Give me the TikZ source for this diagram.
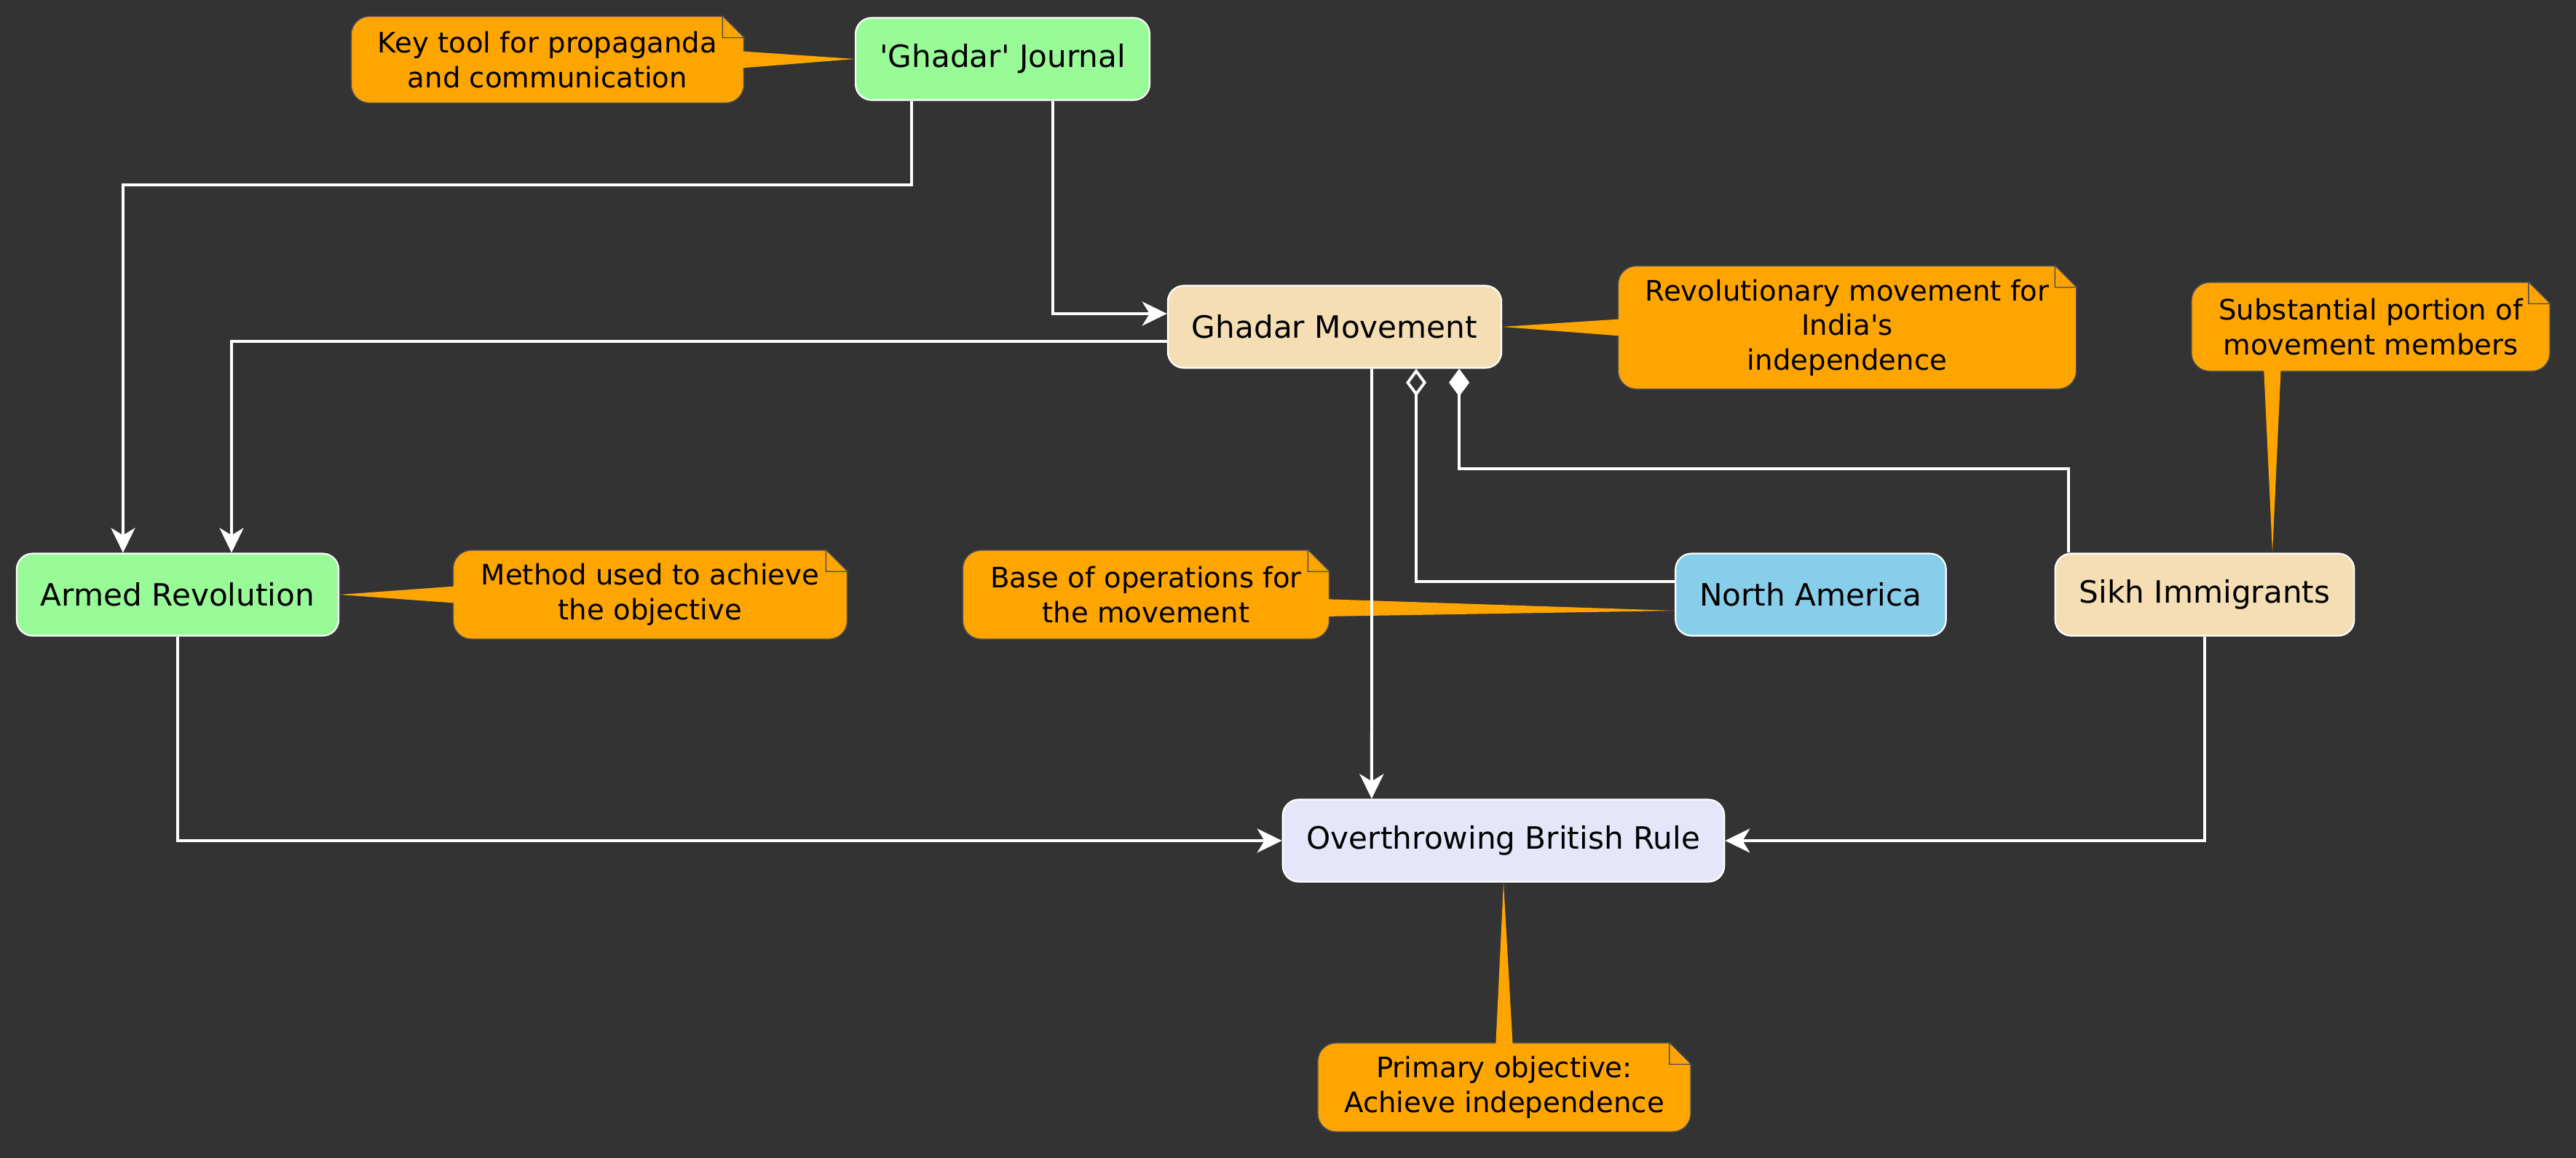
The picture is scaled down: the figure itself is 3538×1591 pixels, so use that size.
\documentclass[tikz,border=0pt]{standalone}
\usepackage{fontspec}
\setmainfont{DejaVu Sans}
\usetikzlibrary{arrows.meta}
\definecolor{bgcol}{HTML}{333333}
\definecolor{notecol}{HTML}{FFA500}
\definecolor{greencol}{HTML}{98FB98}
\definecolor{wheatcol}{HTML}{F5DEB3}
\definecolor{bluecol}{HTML}{87CEEB}
\definecolor{lavcol}{HTML}{E6E6FA}
\definecolor{foldcol}{HTML}{4A4F5C}

\begin{document}
\begin{tikzpicture}[x=0.01cm, y=-0.01cm]
\tikzset{boite/.style={draw=white, line width=0.6pt, rounded corners=0.22cm, minimum height=1.13cm, inner xsep=0.33cm, font=\fontsize{12pt}{14pt}\selectfont}}
\tikzset{remarque/.style={fill=notecol, draw=foldcol, line width=0.4pt, rounded corners=0.25cm, align=center, minimum height=1.22cm, font=\fontsize{11pt}{13.5pt}\selectfont}}
\tikzset{fleche/.style={white, line width=1.1pt, -{Stealth[length=0.34cm,width=0.33cm,inset=0.1cm]}}}
\tikzset{lien/.style={white, line width=1.1pt}}
\fill[bgcol] (0,0) rectangle (3538,1591);
\node[boite, fill=greencol] (gj) at (1377,81) {\textquotesingle Ghadar\textquotesingle{} Journal};
\node[boite, fill=wheatcol] (gm) at (1833,449) {Ghadar Movement};
\node[boite, fill=greencol] (ar) at (244,817) {Armed Revolution};
\node[boite, fill=bluecol] (na) at (2487,817) {North America};
\node[boite, fill=wheatcol] (si) at (3028,817) {Sikh Immigrants};
\node[boite, fill=lavcol] (obr) at (2065,1155) {Overthrowing British Rule};
\node[remarque, minimum width=5.39cm, minimum height=1.19cm] (kn) at (752,82) {Key tool for propaganda\\and communication};
\node[remarque, minimum width=6.29cm, minimum height=1.69cm] (rn) at (2537,450) {Revolutionary movement for\\India\textquotesingle s\\independence};
\node[remarque, minimum width=4.92cm] (sn) at (3256,449) {Substantial portion of\\movement members};
\node[remarque, minimum width=5.41cm] (mn) at (893,817) {Method used to achieve\\the objective};
\node[remarque, minimum width=5.03cm] (bn) at (1574,817) {Base of operations for\\the movement};
\node[remarque, minimum width=5.12cm] (pn) at (2066,1494) {Primary objective:\\Achieve independence};
\fill[bgcol] ([xshift=-0.3cm]kn.north east) -- (kn.north east) -- ([yshift=-0.3cm]kn.north east) -- cycle;
\draw[foldcol, line width=0.4pt, fill=notecol] ([xshift=-0.3cm]kn.north east) -- ([xshift=-0.3cm,yshift=-0.3cm]kn.north east) -- ([yshift=-0.3cm]kn.north east) -- cycle;
\fill[bgcol] ([xshift=-0.3cm]rn.north east) -- (rn.north east) -- ([yshift=-0.3cm]rn.north east) -- cycle;
\draw[foldcol, line width=0.4pt, fill=notecol] ([xshift=-0.3cm]rn.north east) -- ([xshift=-0.3cm,yshift=-0.3cm]rn.north east) -- ([yshift=-0.3cm]rn.north east) -- cycle;
\fill[bgcol] ([xshift=-0.3cm]sn.north east) -- (sn.north east) -- ([yshift=-0.3cm]sn.north east) -- cycle;
\draw[foldcol, line width=0.4pt, fill=notecol] ([xshift=-0.3cm]sn.north east) -- ([xshift=-0.3cm,yshift=-0.3cm]sn.north east) -- ([yshift=-0.3cm]sn.north east) -- cycle;
\fill[bgcol] ([xshift=-0.3cm]mn.north east) -- (mn.north east) -- ([yshift=-0.3cm]mn.north east) -- cycle;
\draw[foldcol, line width=0.4pt, fill=notecol] ([xshift=-0.3cm]mn.north east) -- ([xshift=-0.3cm,yshift=-0.3cm]mn.north east) -- ([yshift=-0.3cm]mn.north east) -- cycle;
\fill[bgcol] ([xshift=-0.3cm]bn.north east) -- (bn.north east) -- ([yshift=-0.3cm]bn.north east) -- cycle;
\draw[foldcol, line width=0.4pt, fill=notecol] ([xshift=-0.3cm]bn.north east) -- ([xshift=-0.3cm,yshift=-0.3cm]bn.north east) -- ([yshift=-0.3cm]bn.north east) -- cycle;
\fill[bgcol] ([xshift=-0.3cm]pn.north east) -- (pn.north east) -- ([yshift=-0.3cm]pn.north east) -- cycle;
\draw[foldcol, line width=0.4pt, fill=notecol] ([xshift=-0.3cm]pn.north east) -- ([xshift=-0.3cm,yshift=-0.3cm]pn.north east) -- ([yshift=-0.3cm]pn.north east) -- cycle;
\fill[notecol] ([xshift=-0.1cm,yshift=0.12cm]kn.east) -- (gj.west) -- ([xshift=-0.1cm,yshift=-0.12cm]kn.east) -- cycle;
\fill[notecol] ([xshift=0.1cm,yshift=0.12cm]rn.west) -- (gm.east) -- ([xshift=0.1cm,yshift=-0.12cm]rn.west) -- cycle;
\fill[notecol] ([xshift=-1.47cm,yshift=0.1cm]sn.south) -- ([xshift=0.93cm]si.north) -- ([xshift=-1.23cm,yshift=0.1cm]sn.south) -- cycle;
\fill[notecol] ([xshift=0.1cm,yshift=0.12cm]mn.west) -- (ar.east) -- ([xshift=0.1cm,yshift=-0.12cm]mn.west) -- cycle;
\fill[notecol] ([xshift=-0.1cm,yshift=-0.06cm]bn.east) -- ([yshift=-0.22cm]na.west) -- ([xshift=-0.1cm,yshift=-0.3cm]bn.east) -- cycle;
\fill[notecol] ([xshift=-0.12cm,yshift=-0.1cm]pn.north) -- (obr.south) -- ([xshift=0.12cm,yshift=-0.1cm]pn.north) -- cycle;
\draw[fleche] ([xshift=-1.25cm]gj.south) -- ++(0,115) -| ([xshift=-0.75cm]ar.north);
\draw[fleche] ([xshift=0.69cm]gj.south) |- ([yshift=0.18cm]gm.west);
\draw[fleche] ([yshift=-0.2cm]gm.west) -| ([xshift=0.74cm]ar.north);
\draw[fleche] ([xshift=0.51cm]gm.south) -- ([xshift=-1.81cm]obr.north);
\draw[lien, -{Diamond[open,length=0.38cm,width=0.28cm]}] ([yshift=0.18cm]na.west) -| ([xshift=1.12cm]gm.south);
\draw[lien, -{Diamond[length=0.38cm,width=0.28cm]}] ([xshift=-1.87cm]si.north) -- ++(0,-115) -| ([xshift=1.71cm]gm.south);
\draw[fleche] (ar.south) |- (obr.west);
\draw[fleche] (si.south) |- (obr.east);
\end{tikzpicture}
\end{document}
